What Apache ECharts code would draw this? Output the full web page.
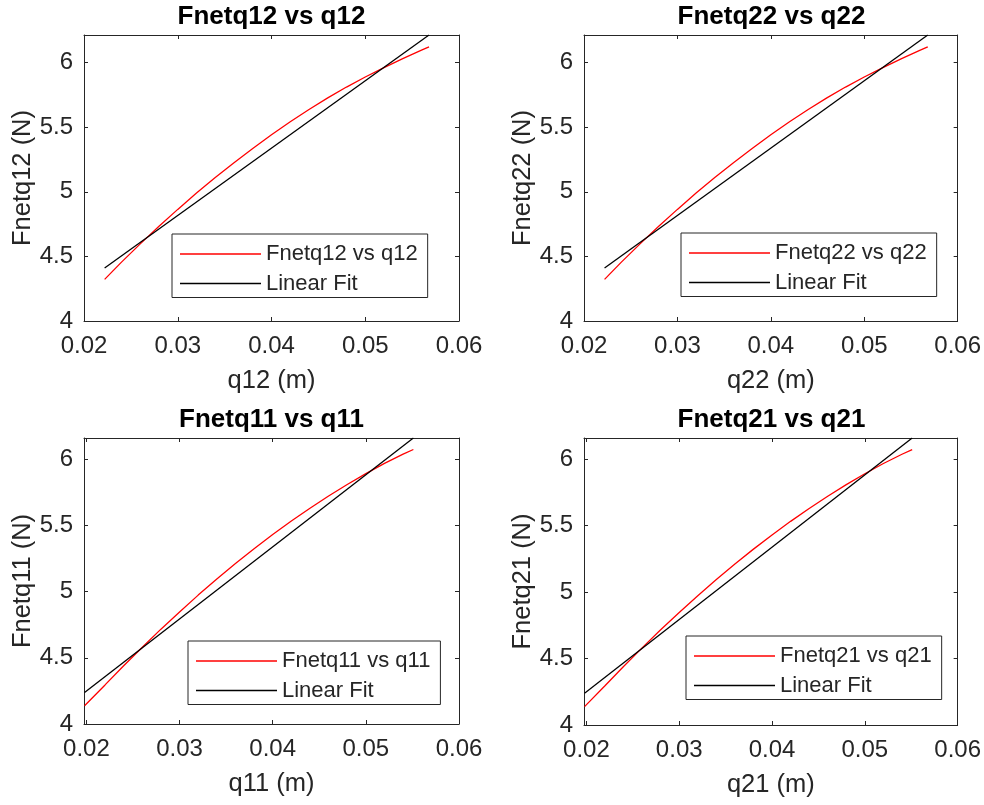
<!DOCTYPE html>
<html><head><meta charset="utf-8">
<script src="https://cdn.jsdelivr.net/npm/echarts@6/dist/echarts.min.js"></script>
<style>html,body{margin:0;padding:0;background:#fff}#c{width:984px;height:805px}</style>
</head><body><div id="c"></div>
<script>
// ---- data ----
const q12 = [0.0222, 0.024, 0.026, 0.028, 0.030, 0.032, 0.034, 0.036, 0.038, 0.040, 0.042, 0.044, 0.046, 0.048, 0.050, 0.052, 0.054, 0.056, 0.0568];
const F12 = [4.322, 4.456, 4.597, 4.733, 4.864, 4.990, 5.110, 5.225, 5.335, 5.442, 5.542, 5.637, 5.727, 5.811, 5.889, 5.962, 6.031, 6.097, 6.122];
const fitQ12 = [0.0222, 0.0568];
const fitF12 = [4.410, 6.214];

const q22 = [0.0222, 0.024, 0.026, 0.028, 0.030, 0.032, 0.034, 0.036, 0.038, 0.040, 0.042, 0.044, 0.046, 0.048, 0.050, 0.052, 0.054, 0.056, 0.0568];
const F22 = [4.322, 4.456, 4.597, 4.733, 4.864, 4.990, 5.110, 5.225, 5.335, 5.442, 5.542, 5.637, 5.727, 5.811, 5.889, 5.962, 6.031, 6.097, 6.122];
const fitQ22 = [0.0222, 0.0568];
const fitF22 = [4.410, 6.214];

const q11 = [0.0198, 0.022, 0.024, 0.026, 0.028, 0.030, 0.032, 0.034, 0.036, 0.038, 0.040, 0.042, 0.044, 0.046, 0.048, 0.050, 0.052, 0.054, 0.0551];
const F11 = [4.138, 4.295, 4.440, 4.580, 4.716, 4.846, 4.973, 5.095, 5.211, 5.323, 5.430, 5.532, 5.629, 5.721, 5.808, 5.890, 5.967, 6.037, 6.072];
const fitQ11 = [0.0198, 0.0551];
const fitF11 = [4.238, 6.159];

const q21 = [0.0198, 0.022, 0.024, 0.026, 0.028, 0.030, 0.032, 0.034, 0.036, 0.038, 0.040, 0.042, 0.044, 0.046, 0.048, 0.050, 0.052, 0.054, 0.0551];
const F21 = [4.138, 4.295, 4.440, 4.580, 4.716, 4.846, 4.973, 5.095, 5.211, 5.323, 5.430, 5.532, 5.629, 5.721, 5.808, 5.890, 5.967, 6.037, 6.072];
const fitQ21 = [0.0198, 0.0551];
const fitF21 = [4.238, 6.159];

const xTicks = [0.02, 0.03, 0.04, 0.05, 0.06];
const yTicks = [4, 4.5, 5, 5.5, 6];
const titles = ['Fnetq12 vs q12', 'Fnetq22 vs q22', 'Fnetq11 vs q11', 'Fnetq21 vs q21'];
const xNames = ['q12 (m)', 'q22 (m)', 'q11 (m)', 'q21 (m)'];
const yNames = ['Fnetq12 (N)', 'Fnetq22 (N)', 'Fnetq11 (N)', 'Fnetq21 (N)'];
const fitName = 'Linear Fit';

// ---- layout ----
const FONT = '"Liberation Sans", Arial, Helvetica, sans-serif';
const TXT = '#262626';
const panels = [
  {q:q12, F:F12, fq:fitQ12, fF:fitF12, xMin:0.02, yMax:6.214, g:{left:84, top:35, width:375, height:286}, lg:{left:172, top:234}, ty:2},
  {q:q22, F:F22, fq:fitQ22, fF:fitF22, xMin:0.02, yMax:6.214, g:{left:584, top:35, width:375, height:286}, lg:{left:681, top:233}, ty:2},
  {q:q11, F:F11, fq:fitQ11, fF:fitF11, xMin:0.01974, yMax:6.159, g:{left:84, top:438, width:375, height:286}, lg:{left:188, top:641}, ty:405},
  {q:q21, F:F21, fq:fitQ21, fF:fitF21, xMin:0.01974, yMax:6.159, g:{left:584, top:438, width:375, height:287}, lg:{left:686, top:636}, ty:405}
];

const grid = [], xAxis = [], yAxis = [], series = [], legend = [], title = [];
panels.forEach((p, i) => {
  grid.push(Object.assign({containLabel:false}, p.g));
  const lineS = {show:true, onZero:false, lineStyle:{color:TXT, width:1}};
  const tickS = {show:true, inside:true, length:4, lineStyle:{color:TXT, width:1}};
  xAxis.push({type:'value', gridIndex:i, position:'bottom', min:p.xMin, max:0.06,
    axisLine:lineS, splitLine:{show:false},
    axisTick:Object.assign({customValues:xTicks}, tickS),
    axisLabel:{customValues:xTicks, margin:13, fontSize:24, color:TXT, fontFamily:FONT, formatter:v => v.toFixed(2)},
    name:xNames[i], nameLocation:'middle', nameGap:47,
    nameTextStyle:{fontSize:25.5, color:TXT, fontFamily:FONT}});
  xAxis.push({type:'value', gridIndex:i, position:'top', min:p.xMin, max:0.06,
    axisLine:lineS, splitLine:{show:false},
    axisTick:Object.assign({customValues:xTicks}, tickS), axisLabel:{show:false}});
  yAxis.push({type:'value', gridIndex:i, position:'left', min:4, max:p.yMax,
    axisLine:lineS, splitLine:{show:false},
    axisTick:Object.assign({customValues:yTicks}, tickS),
    axisLabel:{customValues:yTicks, margin:11, fontSize:24, color:TXT, fontFamily:FONT},
    name:yNames[i], nameLocation:'middle', nameGap:48,
    nameTextStyle:{fontSize:25.5, color:TXT, fontFamily:FONT}});
  yAxis.push({type:'value', gridIndex:i, position:'right', min:4, max:p.yMax,
    axisLine:lineS, splitLine:{show:false},
    axisTick:Object.assign({customValues:yTicks}, tickS), axisLabel:{show:false}});
  series.push({type:'line', name:titles[i], xAxisIndex:2*i, yAxisIndex:2*i, symbol:'none',
    lineStyle:{color:'#ff0000', width:1.3}, itemStyle:{color:'#ff0000'},
    data:p.q.map((x, k) => [x, p.F[k]])});
  series.push({type:'line', name:fitName, xAxisIndex:2*i, yAxisIndex:2*i, symbol:'none',
    lineStyle:{color:'#000000', width:1.3}, itemStyle:{color:'#000000'},
    data:p.fq.map((x, k) => [x, p.fF[k]])});
  legend.push({left:p.lg.left, top:p.lg.top, orient:'vertical', data:[titles[i], fitName],
    icon:'rect', itemWidth:81, itemHeight:1.3, itemGap:4.5, padding:[7.5, 10, 1.5, 8],
    borderColor:TXT, borderWidth:1, backgroundColor:'#ffffff', borderRadius:0,
    selectedMode:false,
    textStyle:{fontSize:22, color:TXT, fontFamily:FONT, lineHeight:25}});
  title.push({text:titles[i], left:p.g.left + p.g.width / 2, top:p.ty, textAlign:'center', padding:0,
    textStyle:{fontSize:26, fontWeight:'bold', color:'#000000', fontFamily:FONT, lineHeight:30}});
});

const chart = echarts.init(document.getElementById('c'));
chart.setOption({backgroundColor:'#ffffff', animation:false, title, grid, xAxis, yAxis, series, legend});
</script></body></html>
